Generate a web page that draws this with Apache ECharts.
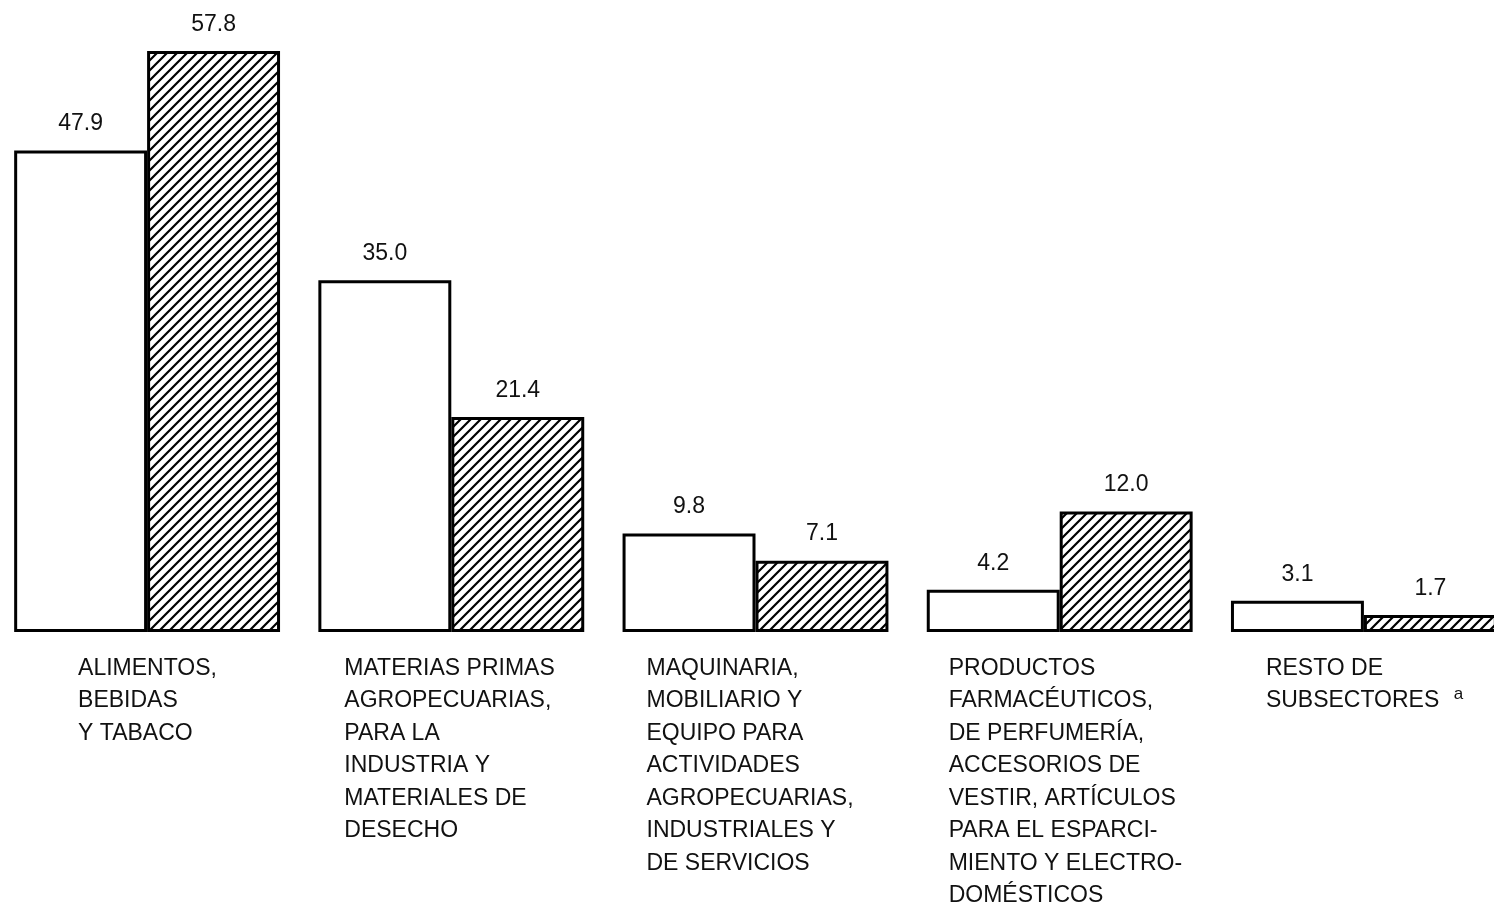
<!DOCTYPE html>
<html>
<head>
<meta charset="utf-8">
<script src="https://cdn.jsdelivr.net/npm/echarts@6/dist/echarts.min.js"></script>
<style>html,body{margin:0;padding:0;background:#fff}#c{width:1494px;height:909px}</style>
</head>
<body>
<div id="c"></div>
<script>
// ---- data ----
const categories = [
  'ALIMENTOS,\nBEBIDAS\nY TABACO',
  'MATERIAS PRIMAS\nAGROPECUARIAS,\nPARA LA\nINDUSTRIA Y\nMATERIALES DE\nDESECHO',
  'MAQUINARIA,\nMOBILIARIO Y\nEQUIPO PARA\nACTIVIDADES\nAGROPECUARIAS,\nINDUSTRIALES Y\nDE SERVICIOS',
  'PRODUCTOS\nFARMACÉUTICOS,\nDE PERFUMERÍA,\nACCESORIOS DE\nVESTIR, ARTÍCULOS\nPARA EL ESPARCI-\nMIENTO Y ELECTRO-\nDOMÉSTICOS',
  'RESTO DE\nSUBSECTORES'
];
const footnotes = ['', '', '', '', 'a'];
const seriesPlain = [47.9, 35.0, 9.8, 4.2, 3.1];
const seriesHatched = [57.8, 21.4, 7.1, 12.0, 1.7];

// ---- styling ----
const FONT = '"Liberation Sans", Arial, Helvetica, sans-serif';
const INK = '#111';
const FS = 23;
const labelPadLeft = [122, 46, 42, 38, 64];

function hatchPattern() {
  const s = 10;
  const c = document.createElement('canvas');
  c.width = s; c.height = s;
  const ctx = c.getContext('2d');
  ctx.fillStyle = '#fff';
  ctx.fillRect(0, 0, s, s);
  ctx.strokeStyle = '#000';
  ctx.lineWidth = 2.2;
  ctx.beginPath();
  ctx.moveTo(-1, s + 1); ctx.lineTo(s + 1, -1);
  ctx.moveTo(-2, 2); ctx.lineTo(2, -2);
  ctx.moveTo(s - 2, s + 2); ctx.lineTo(s + 2, s - 2);
  ctx.stroke();
  return c;
}

const chart = echarts.init(document.getElementById('c'), null, { renderer: 'canvas' });

const valueLabel = {
  show: true,
  position: 'top',
  distance: 15,
  fontFamily: FONT,
  fontSize: FS,
  color: INK,
  formatter: p => p.value.toFixed(1)
};

chart.setOption({
  animation: false,
  backgroundColor: '#fff',
  grid: { left: -5, right: -22, top: 29, bottom: 277, containLabel: false, outerBoundsMode: 'none' },
  xAxis: {
    type: 'category',
    data: categories.map((c, i) => ({ value: c, textStyle: { padding: [0, 0, 0, labelPadLeft[i]] } })),
    axisLine: { show: false },
    axisTick: { show: false },
    splitLine: { show: false },
    axisLabel: {
      interval: 0,
      margin: 20,
      align: 'center',
      verticalAlign: 'top',
      width: 260,
      fontFamily: FONT,
      fontSize: FS,
      lineHeight: 32.5,
      color: INK,
      formatter: (v, i) => '{t|' + v + (footnotes[i] ? ' ' : '') + '}' + (footnotes[i] ? '{sup|' + footnotes[i] + '}' : ''),
      rich: {
        t: { align: 'left', fontFamily: FONT, fontSize: FS, lineHeight: 32.5, color: INK },
        sup: { align: 'left', fontFamily: FONT, fontSize: 17, lineHeight: 32.5, color: INK, padding: [0, 0, 12, 8] }
      }
    }
  },
  yAxis: {
    type: 'value',
    min: 0,
    max: 60,
    show: false
  },
  series: [
    {
      type: 'bar',
      data: seriesPlain,
      barGap: '0%',
      barCategoryGap: '12.6%',
      itemStyle: { color: '#fff', borderColor: '#000', borderWidth: 3 },
      label: valueLabel
    },
    {
      type: 'bar',
      data: seriesHatched,
      barGap: '0%',
      barCategoryGap: '12.6%',
      itemStyle: { color: { image: hatchPattern(), repeat: 'repeat' }, borderColor: '#000', borderWidth: 3 },
      label: valueLabel
    }
  ]
});
</script>
</body>
</html>
